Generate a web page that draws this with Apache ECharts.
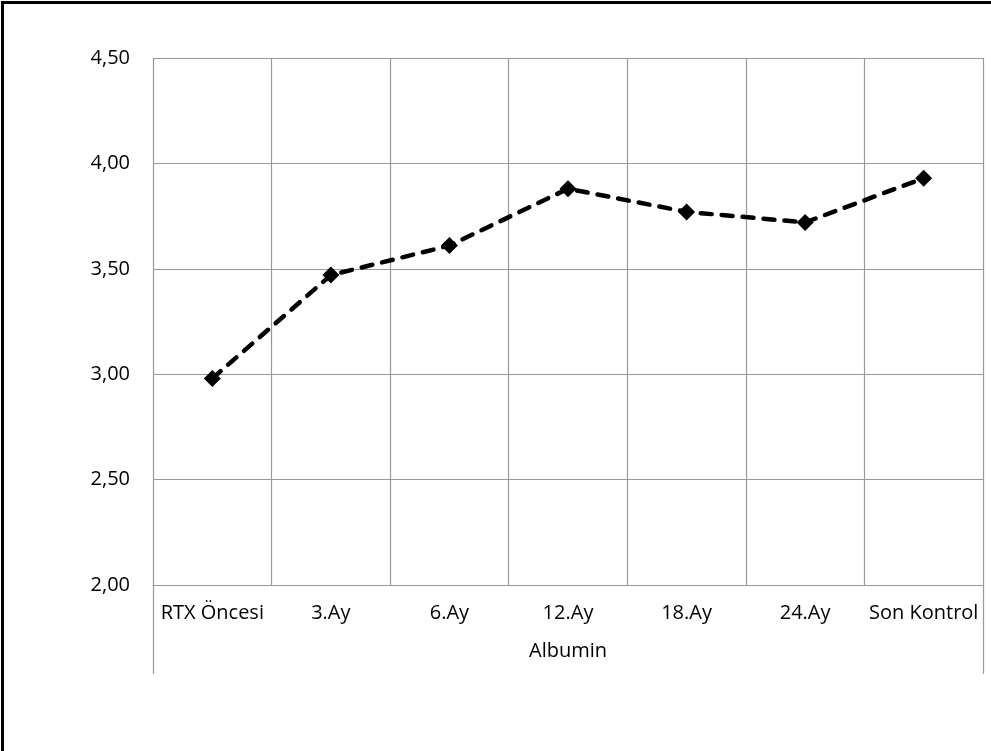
<!DOCTYPE html>
<html>
<head>
<meta charset="utf-8">
<script src="https://cdn.jsdelivr.net/npm/echarts@6/dist/echarts.min.js"></script>
<style>
  html, body { margin: 0; padding: 0; background: #fff; }
  #chart { width: 991px; height: 751px; }
</style>
</head>
<body>
<div id="chart"></div>
<script>
// Albumin values over follow-up periods
const categories = ['RTX Öncesi', '3.Ay', '6.Ay', '12.Ay', '18.Ay', '24.Ay', 'Son Kontrol'];
const albumin = [2.98, 3.47, 3.61, 3.88, 3.77, 3.72, 3.93];
const groupLabel = ['Albumin'];
const yMin = 2.0, yMax = 4.5, yStep = 0.5;

const FONT = '"Open Sans", "Liberation Sans", sans-serif';
const GRID_COLOR = '#999999';

const chart = echarts.init(document.getElementById('chart'), null, { renderer: 'canvas' });

chart.setOption({
  backgroundColor: '#ffffff',
  animation: false,
  grid: { left: 153, right: 8, top: 58, bottom: 166, containLabel: false },
  graphic: [
    // frame edges along the top and left
    { type: 'polyline', z: 100, shape: { points: [[2.5, 751], [2.5, 2.5], [991, 2.5]] },
      style: { stroke: '#000', lineWidth: 3, fill: null } }
  ],
  xAxis: [
    {
      type: 'category',
      data: categories,
      boundaryGap: true,
      axisLine: { show: true, lineStyle: { color: GRID_COLOR, width: 1.2 } },
      axisTick: { show: false },
      splitLine: { show: true, lineStyle: { color: GRID_COLOR, width: 1.2 } },
      axisLabel: { color: '#000', fontFamily: FONT, fontSize: 20, margin: 18, interval: 0 }
    },
    {
      type: 'category',
      data: groupLabel,
      position: 'bottom',
      boundaryGap: true,
      axisLine: { show: false },
      axisTick: { show: true, length: 89, lineStyle: { color: GRID_COLOR, width: 1.2 } },
      splitLine: { show: false },
      axisLabel: { color: '#000', fontFamily: FONT, fontSize: 20, margin: 56 }
    }
  ],
  yAxis: {
    type: 'value',
    min: yMin,
    max: yMax,
    interval: yStep,
    axisLine: { show: false },
    axisTick: { show: false },
    splitLine: { show: true, lineStyle: { color: GRID_COLOR, width: 1.2 } },
    axisLabel: {
      color: '#000', fontFamily: FONT, fontSize: 20, margin: 23,
      formatter: v => v.toFixed(2).replace('.', ',')
    }
  },
  series: [
    {
      type: 'line',
      name: 'Albumin',
      data: albumin,
      xAxisIndex: 0,
      symbol: 'diamond',
      symbolSize: 17,
      showAllSymbol: true,
      itemStyle: { color: '#000' },
      lineStyle: { color: '#000', width: 4.5, type: [11, 10], cap: 'round' }
    }
  ]
});
</script>
</body>
</html>
